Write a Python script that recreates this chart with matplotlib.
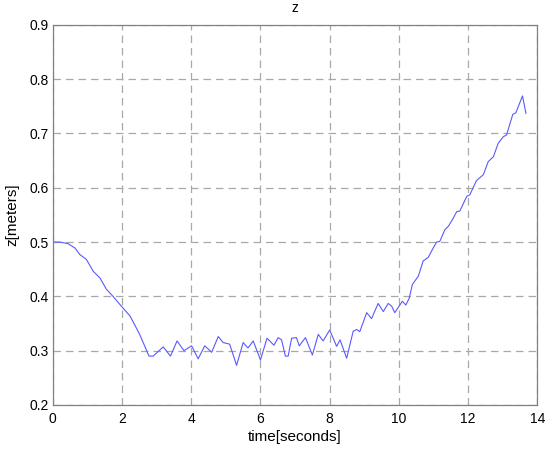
'''z position over time.'''
import matplotlib as mpl
mpl.use('Agg')
import matplotlib.pyplot as plt

time_s = [0.0, 0.2, 0.44, 0.64, 0.78, 0.97, 1.17, 1.36, 1.55, 1.74, 1.98,
          2.23, 2.51, 2.78, 2.9, 3.19, 3.4, 3.59, 3.79, 4.01, 4.2, 4.39,
          4.59, 4.78, 4.92, 5.11, 5.31, 5.5, 5.64, 5.79, 6.0, 6.19, 6.39,
          6.51, 6.61, 6.72, 6.8, 6.9, 7.04, 7.12, 7.3, 7.5, 7.67, 7.81, 8.0,
          8.2, 8.3, 8.49, 8.68, 8.78, 8.87, 9.07, 9.21, 9.4, 9.55, 9.69,
          9.79, 9.88, 10.1, 10.2, 10.3, 10.39, 10.56, 10.7, 10.85, 10.99,
          11.09, 11.18, 11.33, 11.43, 11.57, 11.67, 11.76, 11.96, 12.05,
          12.24, 12.44, 12.58, 12.73, 12.87, 13.02, 13.11, 13.29, 13.38,
          13.57, 13.67]
z_m = [0.5, 0.5, 0.497, 0.489, 0.477, 0.468, 0.446, 0.434, 0.413, 0.4,
       0.382, 0.364, 0.33, 0.29, 0.29, 0.307, 0.29, 0.318, 0.3, 0.309,
       0.285, 0.309, 0.297, 0.326, 0.315, 0.312, 0.273, 0.315, 0.305,
       0.318, 0.283, 0.323, 0.31, 0.324, 0.32, 0.29, 0.29, 0.323, 0.324,
       0.309, 0.324, 0.292, 0.33, 0.318, 0.338, 0.308, 0.32, 0.286, 0.336,
       0.339, 0.335, 0.37, 0.359, 0.387, 0.372, 0.387, 0.382, 0.37, 0.391,
       0.384, 0.397, 0.422, 0.437, 0.465, 0.472, 0.489, 0.5, 0.501, 0.523,
       0.529, 0.544, 0.556, 0.557, 0.584, 0.587, 0.613, 0.624, 0.648,
       0.657, 0.682, 0.694, 0.697, 0.735, 0.738, 0.769, 0.737]

x_ticks = [0, 2, 4, 6, 8, 10, 12, 14]
y_ticks = [0.2, 0.3, 0.4, 0.5, 0.6, 0.7, 0.8, 0.9]

plt.rcParams['font.family'] = ['Liberation Sans', 'DejaVu Sans']

fig = plt.figure(figsize=(5.5, 4.5), dpi=100)
ax = fig.add_axes([0.096, 0.1, 0.881, 0.845])
ax.plot(time_s, z_m, color='#5a5aff', linewidth=0.8)

ax.set_xlim(0, 14)
ax.set_ylim(0.2, 0.9)
ax.set_xticks(x_ticks)
ax.set_yticks(y_ticks)
ax.set_xticklabels([str(t) for t in x_ticks])
ax.set_yticklabels([f'{v:.1f}' for v in y_ticks])
ax.tick_params(length=0, labelsize=10)
ax.tick_params(axis='x', pad=5)
ax.tick_params(axis='y', pad=3)
ax.grid(True, linestyle=(0, (6, 4)), color='#a8a8a8', linewidth=0.9)
for s in ax.spines.values():
    s.set_color('#808080')
    s.set_linewidth(0.9)

ax.set_title('z', fontsize=10, pad=9)
ax.set_xlabel('time[seconds]', fontsize=11, labelpad=3)
ax.set_ylabel('z[meters]', fontsize=11, labelpad=7)

fig.savefig('out.png')
